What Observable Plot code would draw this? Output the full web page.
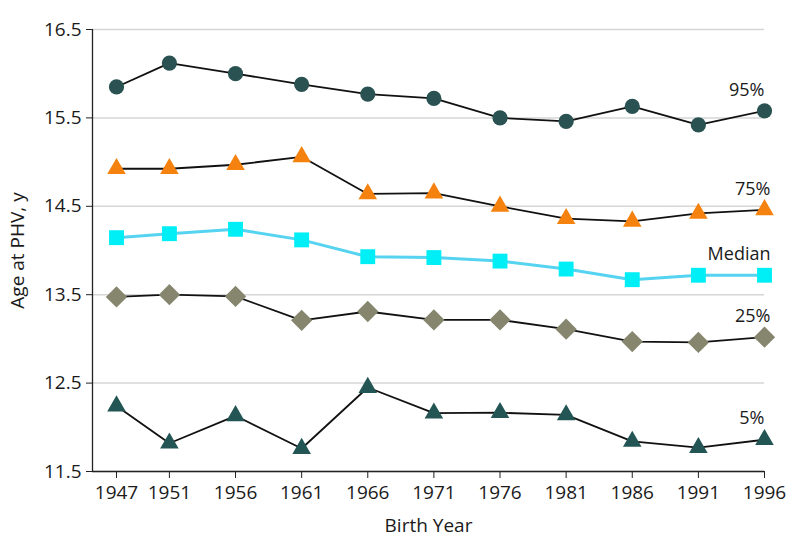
<!DOCTYPE html>
<html>
<head>
<meta charset="utf-8">
<script src="https://cdn.jsdelivr.net/npm/d3@7"></script>
<script src="https://cdn.jsdelivr.net/npm/@observablehq/plot@0.6"></script>
<style>
  html, body { margin: 0; padding: 0; background: #fff; }
</style>
</head>
<body>
<div id="chart"></div>
<script>
const years = [1947, 1951, 1956, 1961, 1966, 1971, 1976, 1981, 1986, 1991, 1996];
const p95 = [15.85, 16.12, 16.0, 15.88, 15.77, 15.72, 15.5, 15.46, 15.63, 15.42, 15.58];
const p75 = [14.925, 14.925, 14.97, 15.06, 14.64, 14.65, 14.5, 14.36, 14.33, 14.42, 14.46];
const median = [14.145, 14.19, 14.24, 14.12, 13.93, 13.92, 13.88, 13.79, 13.67, 13.72, 13.72];
const p25 = [13.475, 13.5, 13.48, 13.21, 13.31, 13.215, 13.215, 13.11, 12.97, 12.96, 13.02];
const p5 = [12.24, 11.82, 12.13, 11.76, 12.45, 12.16, 12.165, 12.14, 11.84, 11.77, 11.86];
const yTicks = [11.5, 12.5, 13.5, 14.5, 15.5, 16.5];
const seriesNames = ["95%", "75%", "Median", "25%", "5%"];

const xDomain = [1945.185, 1996];
const yDomain = [11.5, 16.5];

const series = [
  {name: seriesNames[0], values: p95, symbol: "circle", r: 7.6, fill: "#2b5252", line: "#111", lw: 1.8, dx: 0},
  {name: seriesNames[1], values: p75, symbol: "triangle", r: 6.9, fill: "#f5820f", line: "#111", lw: 1.8, dx: 6},
  {name: seriesNames[2], values: median, symbol: "square", r: 8.4, fill: "#00eef6", line: "#55d3f0", lw: 3, dx: 6},
  {name: seriesNames[3], values: p25, symbol: "diamond2", r: 9.6, fill: "#86866f", line: "#111", lw: 1.8, dx: 6},
  {name: seriesNames[4], values: p5, symbol: "triangle", r: 6.9, fill: "#245555", line: "#111", lw: 1.8, dx: 0}
];

const marks = [
  Plot.gridY(yTicks, {stroke: "#d6d6d6", strokeOpacity: 1, strokeWidth: 1.5}),
  Plot.axisY(yTicks, {
    tickFormat: d => d.toFixed(1), tickSize: 6, tickPadding: 5, stroke: "#222", fontSize: 19, fill: "#1a1a1a",
    label: "Age at PHV, y", labelAnchor: "center", labelArrow: "none", labelOffset: 82
  }),
  Plot.axisX(years, {
    tickFormat: d => String(d), tickSize: 7, tickPadding: 7, stroke: "#222", fontSize: 19, fill: "#1a1a1a",
    label: "Birth Year", labelAnchor: "center", labelArrow: "none", labelOffset: 60
  }),
  Plot.ruleY([yDomain[0]], {stroke: "#222", strokeWidth: 1.3}),
  Plot.ruleX([xDomain[0]], {stroke: "#222", strokeWidth: 1.3})
];

for (const s of series) {
  const data = years.map((y, i) => ({year: y, value: s.values[i]}));
  marks.push(Plot.line(data, {x: "year", y: "value", stroke: s.line, strokeWidth: s.lw}));
}
for (const s of series) {
  const data = years.map((y, i) => ({year: y, value: s.values[i]}));
  marks.push(Plot.dot(data, {x: "year", y: "value", symbol: () => s.symbol, r: s.r, fill: s.fill, stroke: "none"}));
  const last = data[data.length - 1];
  marks.push(Plot.text([last], {x: "year", y: "value", text: () => s.name, textAnchor: "end", dy: -21, dx: s.dx, fill: "#1a1a1a", fontSize: 18}));
}

const chart = Plot.plot({
  width: 794,
  height: 556,
  marginLeft: 92,
  marginRight: 30,
  marginTop: 29,
  marginBottom: 85,
  style: {fontFamily: "'Open Sans', sans-serif", fontSize: "18px", color: "#1a1a1a", background: "#fff"},
  x: {type: "linear", domain: xDomain},
  y: {domain: yDomain},
  symbol: {type: "identity"},
  marks
});
document.getElementById("chart").appendChild(chart);
</script>
</body>
</html>
